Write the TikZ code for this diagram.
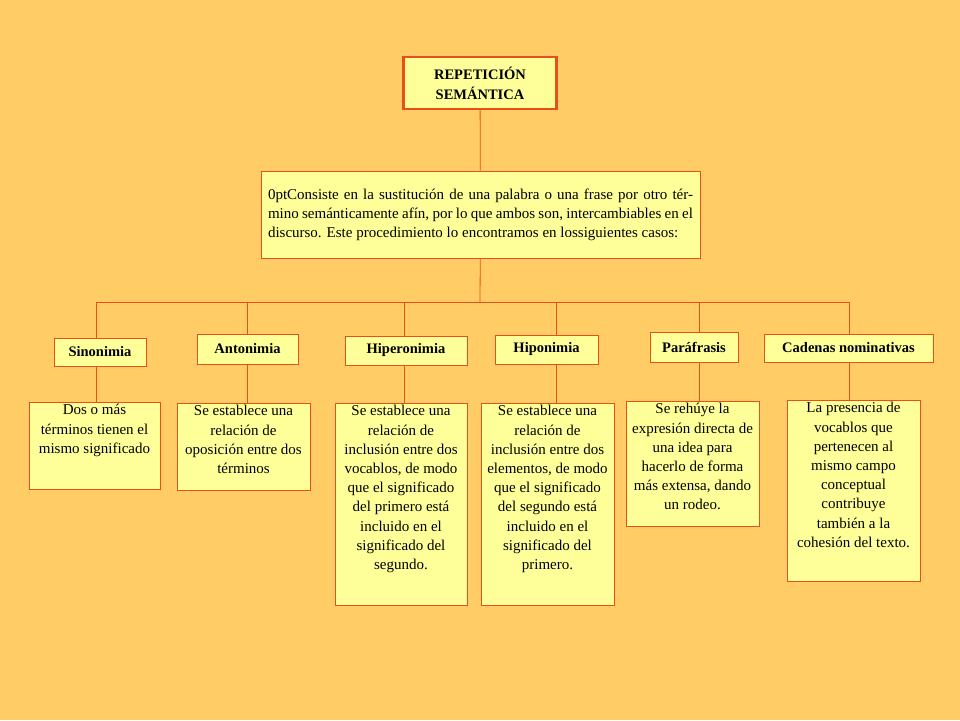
\documentclass[tikz,border=0pt]{standalone}
\usepackage{fontspec}
\setmainfont{Liberation Serif}
\definecolor{bg}{HTML}{FFCC66}
\definecolor{boxf}{HTML}{FFFF99}
\definecolor{ln}{HTML}{E8501A}
\newcommand{\tb}[3]{\parbox[c][#1pt][t]{#2pt}{\centering\hyphenpenalty=10000\relax\vspace*{2pt}#3\par}}
\begin{document}
\begin{tikzpicture}[x=1pt,y=-1pt,
  box/.style={draw=ln,fill=boxf,line width=0.8pt,inner sep=0pt},
  hdr/.style={box,font=\bfseries\fontsize{14.5}{16}\selectfont},
  txt/.style={box,font=\fontsize{15}{19.2}\selectfont,anchor=north,inner xsep=4pt},
  con/.style={draw=ln,line width=0.8pt}]
\fill[bg] (0,0) rectangle (960,720);
\useasboundingbox (0,0) rectangle (960,720);
\node[box,line width=2.5pt,minimum width=153,minimum height=52,align=center,font=\bfseries\fontsize{14.5}{20}\selectfont] (t) at (480,83) {REPETICIÓN\\SEMÁNTICA};
\node[box,minimum width=439,minimum height=87,text width=425,align=justify,font=\fontsize{15}{19}\selectfont\hyphenpenalty=10000\relax] (d) at (480.5,214.5) {Consiste en la sustitución de una palabra o una frase por otro término semánticamente afín, por lo que ambos son, intercambiables en el discurso. Este procedimiento lo encontramos en lossiguientes casos:};
\coordinate (bus) at (480,302);
\coordinate (bl) at (96,302);
\coordinate (br) at (849,302);
\node[hdr,minimum width=92,minimum height=28] (h1) at (100,352) {Sinonimia};
\node[hdr,minimum width=101,minimum height=30] (h2) at (247.5,349) {Antonimia};
\node[hdr,minimum width=122,minimum height=29] (h3) at (406,350.5) {Hiperonimia};
\node[hdr,minimum width=103,minimum height=29] (h4) at (546.5,349.5) {Hiponimia};
\node[hdr,minimum width=88,minimum height=30] (h5) at (694,347) {Paráfrasis};
\node[hdr,minimum width=169,minimum height=28] (h6) at (848.5,348) {Cadenas nominativas};
\node[txt,inner xsep=9pt] (b1) at (94.5,402) {\tb{87}{113}{Dos o más términos tienen el mismo significado}};
\node[txt,inner xsep=8pt] (b2) at (243.5,403) {\tb{87}{117}{Se establece una relación de oposición entre dos términos}};
\node[txt,inner xsep=5pt] (b3) at (401,403) {\tb{202}{122}{Se establece una relación de inclusión entre dos vocablos, de modo que el significado del primero está incluido en el significado del segundo.}};
\node[txt,inner xsep=5pt] (b4) at (547.5,403) {\tb{202}{123}{Se establece una relación de inclusión entre dos elementos, de modo que el significado del segundo está incluido en el significado del primero.}};
\node[txt,inner xsep=6pt] (b5) at (692.5,401) {\tb{125}{121}{Se rehúye la expresión directa de una idea para hacerlo de forma más extensa, dando un rodeo.}};
\node[txt,inner xsep=10pt] (b6) at (853.5,400) {\tb{181}{113}{La presencia de vocablos que pertenecen al mismo campo conceptual contribuye también a la cohesión del texto.}};
\draw[con] (t) -- (d);
\draw[con] (d) -- (bus);
\draw[con] (bl) -- (br);
\foreach \h/\b/\x in {h1/b1/96,h2/b2/247,h3/b3/404,h4/b4/556,h5/b5/699,h6/b6/849}{
  \draw[con] (\x,302) -- (\x,302 |- \h.north);
  \draw[con] (\x,302 |- \h.south) -- (\x,302 |- \b.north);
}
\end{tikzpicture}
\end{document}
